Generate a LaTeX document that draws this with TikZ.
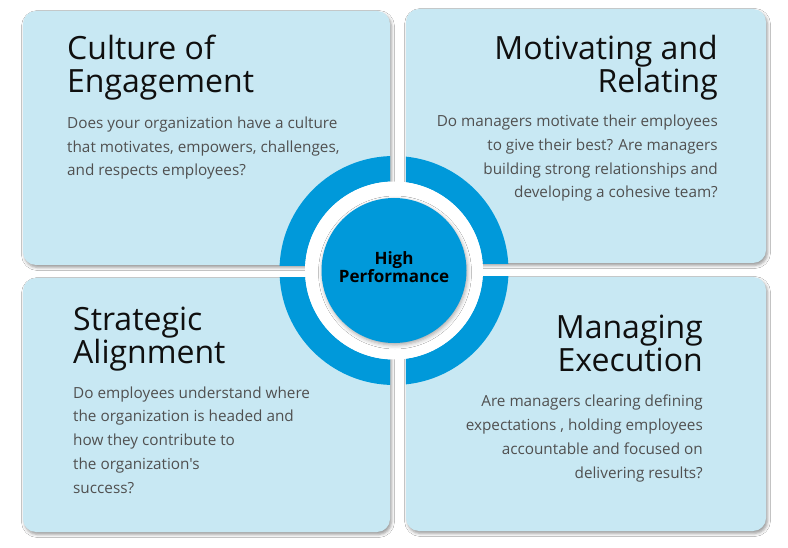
\documentclass[tikz,border=0pt]{standalone}
\usepackage{fontspec}
\newfontfamily\osf{Open Sans}
\usetikzlibrary{shadows.blur}
\definecolor{boxblue}{RGB}{200,232,243}
\definecolor{ringblue}{RGB}{0,153,218}
\definecolor{bodygray}{RGB}{80,80,80}
\definecolor{titleblack}{RGB}{15,15,15}
\tikzset{
  panel/.style={fill=boxblue, rounded corners=13pt, inner sep=0pt,
    blur shadow={shadow xshift=1.5pt, shadow yshift=-2.5pt, shadow blur radius=3pt, shadow opacity=40}},
  title/.style={inner sep=0pt, text=titleblack, font=\osf\fontsize{32}{33}\selectfont},
  body/.style={inner sep=0pt, text=bodygray, font=\osf\fontsize{15.3}{23.7}\selectfont},
  centertext/.style={inner sep=0pt, text=black, align=center, font=\osf\fontsize{17}{16.5}\selectfont\bfseries}
}
\begin{document}
\begin{tikzpicture}[x=1pt,y=-1pt]
\useasboundingbox[fill=white] (0,0) rectangle (788,548);
\coordinate (c) at (394,270.5);
% panels
\node[panel, minimum width=367pt, minimum height=254pt] (tl) at (206.5,138) {};
\node[panel, minimum width=360pt, minimum height=254pt] (tr) at (586,136) {};
\node[panel, minimum width=367pt, minimum height=254pt] (bl) at (206.5,405) {};
\node[panel, minimum width=360pt, minimum height=254pt] (br) at (586,404) {};
% ring pieces
\begin{scope}
  \clip (tl.north west) rectangle (tl.south east);
  \fill[ringblue, even odd rule] (c) circle (114.5) (c) circle (89);
\end{scope}
\begin{scope}
  \clip (tr.north west) rectangle (tr.south east);
  \fill[ringblue, even odd rule] (c) circle (114.5) (c) circle (89);
\end{scope}
\begin{scope}
  \clip (bl.north west) rectangle (bl.south east);
  \fill[ringblue, even odd rule] (c) circle (114.5) (c) circle (89);
\end{scope}
\begin{scope}
  \clip (br.north west) rectangle (br.south east);
  \fill[ringblue, even odd rule] (c) circle (114.5) (c) circle (89);
\end{scope}
\fill[white] (c) circle (89);
\node[circle, fill=ringblue, minimum size=145pt, inner sep=0pt,
  blur shadow={shadow xshift=1pt, shadow yshift=-2pt, shadow blur radius=4pt, shadow opacity=35}] (hub) at (c) {};
\node[centertext, anchor=base] (hubtext) at (394,282.7) {High\\Performance};
% texts
\node[title, anchor=base west, align=left] (tlt) at (67,93) {Culture of\\Engagement};
\node[body, anchor=base west, align=left] (tlb) at (67,176) {Does your organization have a culture\\that motivates, empowers, challenges,\\and respects employees?};
\node[title, anchor=base east, align=right] (trt) at (718,93) {Motivating and\\Relating};
\node[body, anchor=base east, align=right] (trb) at (718,198) {Do managers motivate their employees\\to give their best? Are managers\\building strong relationships and\\developing a cohesive team?};
\node[title, anchor=base west, align=left] (blt) at (73,363) {Strategic\\Alignment};
\node[body, anchor=base west, align=left] (blb) at (73,493) {Do employees understand where\\the organization is headed and\\how they contribute to\\the organization's\\success?};
\node[title, anchor=base east, align=right] (brt) at (703,372) {Managing\\Execution};
\node[body, anchor=base east, align=right] (brb) at (703,478) {Are managers clearing defining\\expectations , holding employees\\accountable and focused on\\delivering results?};
\end{tikzpicture}
\end{document}
